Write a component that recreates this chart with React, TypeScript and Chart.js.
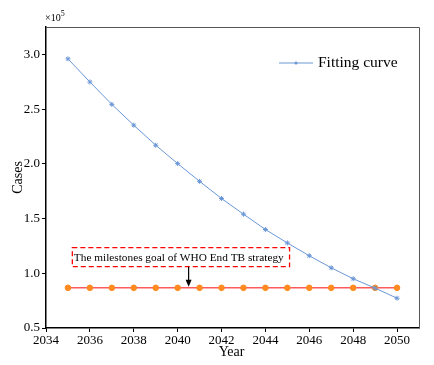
import React, { useEffect, useRef } from "react";
import { Chart, registerables } from "chart.js";

Chart.register(...registerables);

const years = [2035, 2036, 2037, 2038, 2039, 2040, 2041, 2042, 2043, 2044, 2045, 2046, 2047, 2048, 2049, 2050];
const fittingCases = [295900, 274800, 254300, 235300, 217000, 200200, 184000, 168300, 154000, 140000, 127700, 116000, 105000, 95000, 86400, 77200];
const goalCases = [86700, 86700, 86700, 86700, 86700, 86700, 86700, 86700, 86700, 86700, 86700, 86700, 86700, 86700, 86700, 86700];
const xTicks = [2034, 2036, 2038, 2040, 2042, 2044, 2046, 2048, 2050];
const yTicks = [50000, 100000, 150000, 200000, 250000, 300000];
const legendLabel = "Fitting curve";
const annotationText = "The milestones goal of WHO End TB strategy";
const xTitle = "Year";
const yTitle = "Cases";

const SERIF = "'Liberation Serif', 'Times New Roman', serif";

const overlay = {
  id: "overlay",
  afterDraw(chart: any) {
    const { ctx, chartArea: a, scales } = chart;
    const xs = scales.x, ys = scales.y;
    ctx.save();
    // frame top/right
    ctx.strokeStyle = "#555";
    ctx.lineWidth = 1;
    ctx.beginPath();
    ctx.moveTo(a.left, a.top + 0.5);
    ctx.lineTo(a.right + 0.5, a.top + 0.5);
    ctx.lineTo(a.right + 0.5, a.bottom);
    ctx.stroke();
    // scale multiplier
    ctx.fillStyle = "#000";
    ctx.font = `10px ${SERIF}`;
    ctx.textBaseline = "alphabetic";
    ctx.textAlign = "left";
    ctx.fillText("×10", a.left - 1, 21);
    const w = ctx.measureText("×10").width;
    ctx.font = `8px ${SERIF}`;
    ctx.fillText("5", a.left - 1 + w, 16);
    // axis titles
    ctx.font = `14px ${SERIF}`;
    ctx.textAlign = "center";
    ctx.textBaseline = "middle";
    ctx.fillText(xTitle, xs.getPixelForValue(2042) + 10, 352);
    ctx.save();
    ctx.translate(18, (a.top + a.bottom) / 2);
    ctx.rotate(-Math.PI / 2);
    ctx.fillText(yTitle, 0, 0);
    ctx.restore();
    // annotation box
    const bx1 = xs.getPixelForValue(2035.2);
    const bx2 = xs.getPixelForValue(2045.1);
    const by1 = ys.getPixelForValue(123400);
    const by2 = ys.getPixelForValue(106000);
    ctx.strokeStyle = "#ff0000";
    ctx.lineWidth = 1.3;
    ctx.setLineDash([5, 3]);
    ctx.strokeRect(bx1, by1, bx2 - bx1, by2 - by1);
    ctx.setLineDash([]);
    ctx.font = `11.3px ${SERIF}`;
    ctx.fillStyle = "#000";
    ctx.textAlign = "left";
    ctx.textBaseline = "middle";
    ctx.fillText(annotationText, bx1 + 1.5, (by1 + by2) / 2 + 0.5);
    // arrow
    const ax = xs.getPixelForValue(2040.5);
    const ay2 = ys.getPixelForValue(goalCases[0]) - 1;
    ctx.strokeStyle = "#000";
    ctx.lineWidth = 1.2;
    ctx.beginPath();
    ctx.moveTo(ax, by2);
    ctx.lineTo(ax, ay2 - 6);
    ctx.stroke();
    ctx.beginPath();
    ctx.moveTo(ax - 3, ay2 - 7);
    ctx.lineTo(ax + 3, ay2 - 7);
    ctx.lineTo(ax, ay2);
    ctx.closePath();
    ctx.fill();
    // legend
    const ly = 63;
    ctx.strokeStyle = "#6b97d6";
    ctx.lineWidth = 1;
    ctx.beginPath();
    ctx.moveTo(279, ly);
    ctx.lineTo(313, ly);
    ctx.stroke();
    ctx.fillStyle = "#6b97d6";
    ctx.beginPath();
    ctx.arc(296, ly, 1.5, 0, Math.PI * 2);
    ctx.fill();
    ctx.fillStyle = "#000";
    ctx.font = `15.5px ${SERIF}`;
    ctx.textAlign = "left";
    ctx.fillText(legendLabel, 318, ly);
    ctx.restore();
  },
};

export default function App() {
  const ref = useRef<HTMLCanvasElement>(null);
  useEffect(() => {
    const chart = new Chart(ref.current!, {
      type: "line",
      data: {
        datasets: [
          {
            label: legendLabel,
            data: years.map((y, i) => ({ x: y, y: fittingCases[i] })),
            borderColor: "#6b97d6",
            backgroundColor: "#6b97d6",
            borderWidth: 1,
            pointStyle: "star",
            pointRadius: 2.5,
            pointBorderWidth: 1,
            tension: 0,
          },
          {
            label: "Goal",
            data: years.map((y, i) => ({ x: y, y: goalCases[i] })),
            borderColor: "#ff5a5a",
            backgroundColor: "#ff8a1f",
            pointBorderColor: "#ff8a1f",
            borderWidth: 1.5,
            pointStyle: "circle",
            pointRadius: 2.8,
            pointBorderWidth: 1,
            tension: 0,
          },
        ],
      },
      options: {
        animation: false,
        responsive: false,
        layout: { padding: { top: 27, right: 15, left: 0, bottom: 0 } },
        plugins: { legend: { display: false }, tooltip: { enabled: false } },
        scales: {
          x: {
            type: "linear",
            min: 2034,
            max: 2051,
            afterFit: (s: any) => { s.height = 37; },
            afterBuildTicks: (s: any) => { s.ticks = xTicks.map((v) => ({ value: v })); },
            ticks: {
              color: "#000",
              font: { family: SERIF, size: 13 },
              padding: 1,
              maxRotation: 0,
              autoSkip: false,
              callback: (v: any) => String(v),
            },
            grid: { drawOnChartArea: false, drawTicks: true, tickLength: 4, color: "#000" },
            border: { display: true, color: "#000", width: 1.5 },
          },
          y: {
            min: 50000,
            max: 325000,
            afterFit: (s: any) => { s.width = 46; },
            afterBuildTicks: (s: any) => { s.ticks = yTicks.map((v) => ({ value: v })); },
            ticks: {
              color: "#000",
              font: { family: SERIF, size: 13 },
              padding: 2,
              autoSkip: false,
              callback: (v: any) => (Number(v) / 100000).toFixed(1),
            },
            grid: { drawOnChartArea: false, drawTicks: true, tickLength: 4, color: "#000" },
            border: { display: true, color: "#000", width: 1.5 },
          },
        },
      },
      plugins: [overlay],
    });
    return () => chart.destroy();
  }, []);
  return (
    <div style={{ position: "fixed", left: 0, top: 0, width: 434, height: 365, background: "#fff" }}>
      <canvas ref={ref} width={434} height={365} style={{ width: 434, height: 365 }} />
    </div>
  );
}
